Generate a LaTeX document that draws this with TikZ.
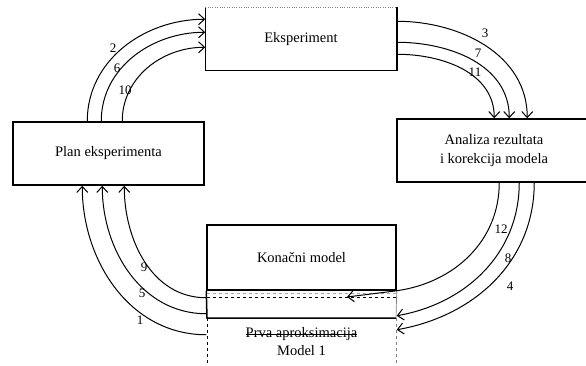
\documentclass[tikz,border=0pt]{standalone}
\usepackage{fontspec}
\setmainfont{Liberation Serif}
\usetikzlibrary{arrows.meta}
\newcommand{\strikeout}[1]{\setbox0\hbox{#1}\rlap{\rule[0.26em]{\wd0}{0.5pt}}\box0}

\begin{document}
\begin{tikzpicture}[x=1pt,y=-1pt]
\tikzstyle{plain}=[draw, line width=1.5pt, inner sep=0pt, align=center, font=\fontsize{14.5}{19}\selectfont]
\tikzstyle{flow}=[line width=1pt, -{Straight Barb[length=6pt,width=11pt,line width=1pt]}]
\tikzstyle{num}=[inner sep=0pt, font=\fontsize{13}{15}\selectfont]
\useasboundingbox (0,0) rectangle (586,366);

\draw node at (108.5,153.5) [plain, minimum width=191pt, minimum height=63pt] (Plan) {Plan eksperimenta};
\draw node at (301,39) [plain, draw=none, minimum width=190pt, minimum height=62pt] (Eksperiment) {Eksperiment};
\draw node at (494,150.5) [plain, minimum width=194pt, minimum height=63pt] (Analiza) {Analiza rezultata\\i korekcija modela};
\draw node at (301.5,257.5) [plain, minimum width=189pt, minimum height=65pt] (Konacni) {Kona\v{c}ni model};
\draw node at (301.5,342) [align=center, font=\fontsize{14.5}{18}\selectfont] (Prva) {\strikeout{Prva aproksimacija}\\Model 1};

% eksperiment: top edge barely visible
\draw[line width=1.5pt] (Eksperiment.north west) -- (Eksperiment.south west) -- (Eksperiment.south east) -- (Eksperiment.north east);
\draw[gray, dotted] (Eksperiment.north west) -- (Eksperiment.north east);

% band between the two models
\coordinate (BandL) at (207,318);
\coordinate (BandR) at (396,318);
\draw[line width=1.5pt] (Konacni.south west) -- (BandL) -- (BandR);
\draw[gray, line width=0.7pt] (Konacni.south east) -- (BandR);
\draw[dashed, line width=0.7pt] (BandL) -- (207,366);
\draw[dashed, gray, line width=0.7pt] (BandR) -- (396,366);
\draw[dashed, gray!70, line width=0.5pt] (207,293) -- (396,293);
\draw[dashed, line width=0.7pt] (207,297) -- (396,297);

% plan -> eksperiment
\draw[flow] ([xshift=75pt]Plan.north west) to[out=90,in=180] ([yshift=-12pt]Eksperiment.north west);
\draw[flow] ([xshift=89pt]Plan.north west) to[out=90,in=180] ([yshift=-25pt]Eksperiment.north west);
\draw[flow] ([xshift=110pt]Plan.north west) to[out=90,in=180] ([yshift=-40pt]Eksperiment.north west);

% eksperiment -> analiza
\draw[flow] ([yshift=-14pt]Eksperiment.north east) to[out=0,in=90] ([xshift=131pt]Analiza.north west);
\draw[flow] ([yshift=-35pt]Eksperiment.north east) to[out=0,in=90] ([xshift=113pt]Analiza.north west);
\draw[flow] ([yshift=-47pt]Eksperiment.north east) to[out=0,in=90] ([xshift=98pt]Analiza.north west);

% analiza -> modeli
\coordinate (Tip12) at (347,297);
\draw[flow] ([xshift=103pt]Analiza.south west) to[out=-90,in=8] (Konacni.south east) -- (Tip12);
\draw[flow] ([xshift=123pt]Analiza.south west) to[out=-90,in=10] ([yshift=-25pt]Konacni.south east);
\draw[flow] ([xshift=138pt]Analiza.south west) to[out=-90,in=10] ([yshift=-39pt]Konacni.south east);

% modeli -> plan
\draw[flow] ([yshift=-7pt]Konacni.south west) to[out=180,in=-90] ([xshift=112pt]Plan.south west);
\draw[flow] ([yshift=-23pt]Konacni.south west) to[out=180,in=-90] ([xshift=90pt]Plan.south west);
\draw[flow] ([yshift=-44pt]Konacni.south west) to[out=180,in=-90] ([xshift=70pt]Plan.south west);

% step numbers
\draw node at (113,48) [num] (N2) {2};
\draw node at (117,68) [num] (N6) {6};
\draw node at (125,90) [num] (N10) {10};
\draw node at (485,33) [num] (N3) {3};
\draw node at (478,53) [num] (N7) {7};
\draw node at (475,72) [num] (N11) {11};
\draw node at (501,229) [num] (N12) {12};
\draw node at (508,258) [num] (N8) {8};
\draw node at (510,286) [num] (N4) {4};
\draw node at (144,267) [num] (N9) {9};
\draw node at (142,293) [num] (N5) {5};
\draw node at (140,320) [num] (N1) {1};
\end{tikzpicture}
\end{document}
